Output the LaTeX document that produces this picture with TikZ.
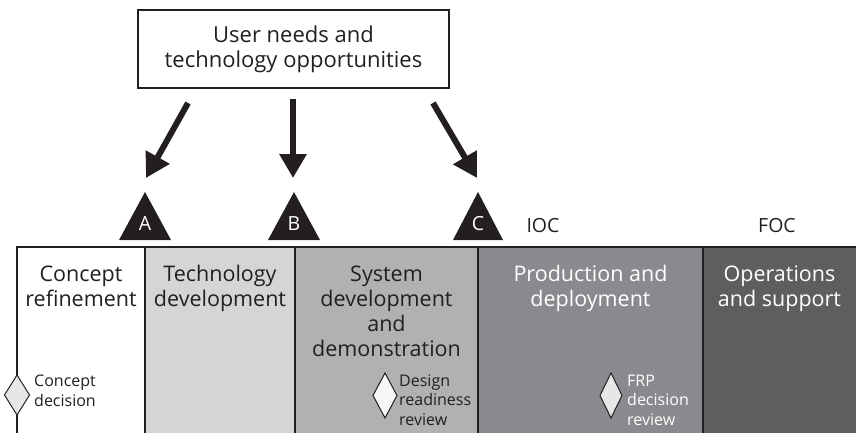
\documentclass[tikz,border=0pt]{standalone}
\usepackage{fontspec}
\setmainfont{Open Sans}
\usetikzlibrary{arrows.meta}
\definecolor{ink}{HTML}{231F20}
\definecolor{cA}{HTML}{FFFFFF}
\definecolor{cB}{HTML}{D4D5D7}
\definecolor{cC}{HTML}{B0B1B3}
\definecolor{cD}{HTML}{898A8D}
\definecolor{cE}{HTML}{5E5E61}
\definecolor{dia}{HTML}{E6E7E8}
\tikzset{
  bigarrow/.style={draw=ink, line width=6pt, -{Triangle[width=26pt,length=24pt]}},
  title/.style={align=center, inner sep=0pt, anchor=base, font=\fontsize{21.5}{25}\selectfont},
  small/.style={align=left, inner sep=0pt, anchor=base west, font=\fontsize{16}{19.5}\selectfont},
  milestone/.style={fill=ink},
  letter/.style={inner sep=0pt, anchor=base, font=\fontsize{19.5}{22}\selectfont},
  divider/.style={draw=ink, line width=2pt},
  decdia/.style={draw=ink, line width=1pt},
}
\begin{document}
\begin{tikzpicture}[x=1pt,y=-1pt]
\useasboundingbox (0,0) rectangle (856,433);
% top box
\node[draw=ink, line width=2pt, minimum width=311pt, minimum height=78pt, inner sep=0pt] (need) at (293.5,49) {};
\node[align=center, inner sep=0pt, anchor=base, font=\fontsize{22}{25}\selectfont, text=ink] (needtxt) at (293.5,68) {User needs and\\technology opportunities};
% columns
\fill[cA] (17,247) rectangle (145,433);
\fill[cB] (145,247) rectangle (295,433);
\fill[cC] (295,247) rectangle (478,433);
\fill[cD] (478,247) rectangle (703,433);
\fill[cE] (703,247) rectangle (856,433);
\draw[draw=ink, line width=2.5pt] (15.75,247) -- (856,247);
\draw[divider] (17,247) -- (17,433);
\draw[divider] (145,247) -- (145,433);
\draw[divider] (295,247) -- (295,433);
\draw[divider] (478,247) -- (478,433);
\draw[divider] (703,247) -- (703,433);
% titles (anchor = baseline of last line)
\node[title, text=ink] (t1) at (81,306) {Concept\\refinement};
\node[title, text=ink] (t2) at (220,306) {Technology\\development};
\node[title, text=ink] (t3) at (386.5,356) {System\\development\\and\\demonstration};
\node[title, text=white] (t4) at (590.5,306) {Production and\\deployment};
\node[title, text=white] (t5) at (779.5,306) {Operations\\and support};
% IOC FOC
\node[letter, text=ink] (ioc) at (543,232) {IOC};
\node[letter, text=ink] (foc) at (777,232) {FOC};
% milestone triangles
\fill[milestone] (145,192) -- (171,240) -- (119,240) -- cycle;
\fill[milestone] (294,192) -- (320,240) -- (268,240) -- cycle;
\fill[milestone] (478,192) -- (503,240) -- (453,240) -- cycle;
\node[letter, text=white] (mA) at (145,230) {A};
\node[letter, text=white] (mB) at (294,230) {B};
\node[letter, text=white] (mC) at (478,230) {C};
% arrows
\coordinate (sA) at (188,103);
\coordinate (eA) at (146,178);
\coordinate (sB) at (293,99);
\coordinate (eB) at (293,178);
\coordinate (sC) at (433,103);
\coordinate (eC) at (477,178);
\draw[bigarrow] (sA) -- (eA);
\draw[bigarrow] (sB) -- (eB);
\draw[bigarrow] (sC) -- (eC);
% decision diamonds
\fill[decdia, fill=dia] (17,375) -- (29.5,395) -- (17,415) -- (4.5,395) -- cycle;
\fill[decdia, fill=white!93!gray] (385,373) -- (397,395.5) -- (385,418) -- (373,395.5) -- cycle;
\fill[decdia, fill=dia] (611,373) -- (622,395.5) -- (611,418) -- (600,395.5) -- cycle;
\node[small, text=ink] (l1) at (34,406) {Concept\\decision};
\node[small, text=ink] (l2) at (399,425) {Design\\readiness\\review};
\node[small, text=white] (l3) at (627,425) {FRP\\decision\\review};
\end{tikzpicture}
\end{document}
